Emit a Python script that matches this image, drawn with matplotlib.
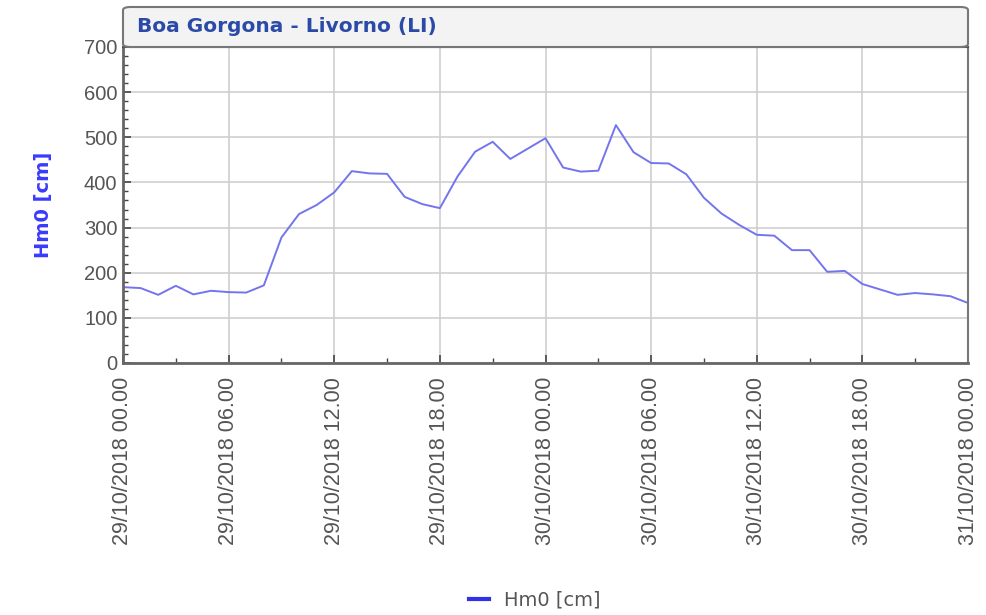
import datetime as dt
import numpy as np
import matplotlib
matplotlib.use('Agg')
import matplotlib.pyplot as plt
import matplotlib.dates as mdates
from matplotlib.patches import FancyBboxPatch

# hourly wave height, 29/10/2018 00:00 -> 31/10/2018 00:00
start = dt.datetime(2018, 10, 29, 0, 0)
hm0 = [168, 166, 151, 171, 152, 160, 157, 156, 172, 278,
       330, 350, 378, 425, 420, 419, 368, 352, 343, 413,
       468, 490, 452, 475, 498, 433, 424, 426, 527, 467,
       443, 442, 418, 366, 331, 306, 284, 282, 250, 250,
       202, 204, 175, 163, 151, 155, 152, 148, 133]
times = [start + dt.timedelta(hours=h) for h in range(len(hm0))]

title = 'Boa Gorgona - Livorno (LI)'
ylabel = 'Hm0 [cm]'
series_label = 'Hm0 [cm]'

W, H = 987, 615
fig = plt.figure(figsize=(W / 100, H / 100), dpi=100)
left, right, top, bottom = 123, 968, 47, 363
ax = fig.add_axes([left / W, 1 - bottom / H, (right - left) / W, (bottom - top) / H])

ax.plot(times, hm0, color='#7474ee', linewidth=1.4, label=series_label)

ax.set_xlim(times[0], times[-1])
ax.set_ylim(0, 700)
ax.set_yticks(np.arange(0, 701, 100))
ax.set_yticks(np.arange(0, 701, 20), minor=True)
ax.xaxis.set_major_locator(mdates.HourLocator(byhour=[0, 6, 12, 18]))
ax.xaxis.set_minor_locator(mdates.HourLocator(interval=3))
ax.xaxis.set_major_formatter(mdates.DateFormatter('%d/%m/%Y %H.%M'))

ax.grid(True, which='major', color='#cfcfcf', linewidth=1.2)
ax.tick_params(axis='both', which='both', direction='in', colors='#444444',
               labelcolor='#555555')
ax.tick_params(axis='both', which='major', length=6, width=1.2)
ax.tick_params(axis='both', which='minor', length=3.5, width=1)
ax.tick_params(axis='x', labelrotation=90, labelsize=15.5, pad=10)
ax.tick_params(axis='y', labelsize=14.5, pad=4)
for lbl in ax.get_xticklabels() + ax.get_yticklabels():
    lbl.set_family('Liberation Sans')

for side in ['left', 'bottom']:
    ax.spines[side].set_color('#666666')
    ax.spines[side].set_linewidth(2)
ax.spines['right'].set_color('#777777')
ax.spines['right'].set_linewidth(1.5)
ax.spines['top'].set_color('#555555')
ax.spines['top'].set_linewidth(1.5)

ax.set_ylabel(ylabel, color='#3a3aff', fontsize=14, fontweight='bold',
              family='DejaVu Sans', labelpad=22)

# title box above the plot
box = FancyBboxPatch((left / W, 1 - top / H), (right - left) / W, 40 / H,
                     boxstyle='round,pad=0,rounding_size=0.008',
                     transform=fig.transFigure, facecolor='#f3f3f3',
                     edgecolor='#777777', linewidth=1.5, mutation_aspect=H / W)
fig.patches.append(box)
fig.text((left + 14) / W, 1 - 27 / H, title, color='#2b4aa8', fontsize=14.5,
         fontweight='bold', family='DejaVu Sans', va='center', ha='left')

leg = fig.legend(loc='center', bbox_to_anchor=(535 / W, 1 - 600 / H), frameon=False,
                 handlelength=1.0, prop={'family': 'DejaVu Sans', 'size': 14})
for t in leg.get_texts():
    t.set_color('#555555')
for l in leg.get_lines():
    l.set_color('#3030e8')
    l.set_linewidth(3)

fig.savefig('out.png', dpi=100, facecolor='white')
